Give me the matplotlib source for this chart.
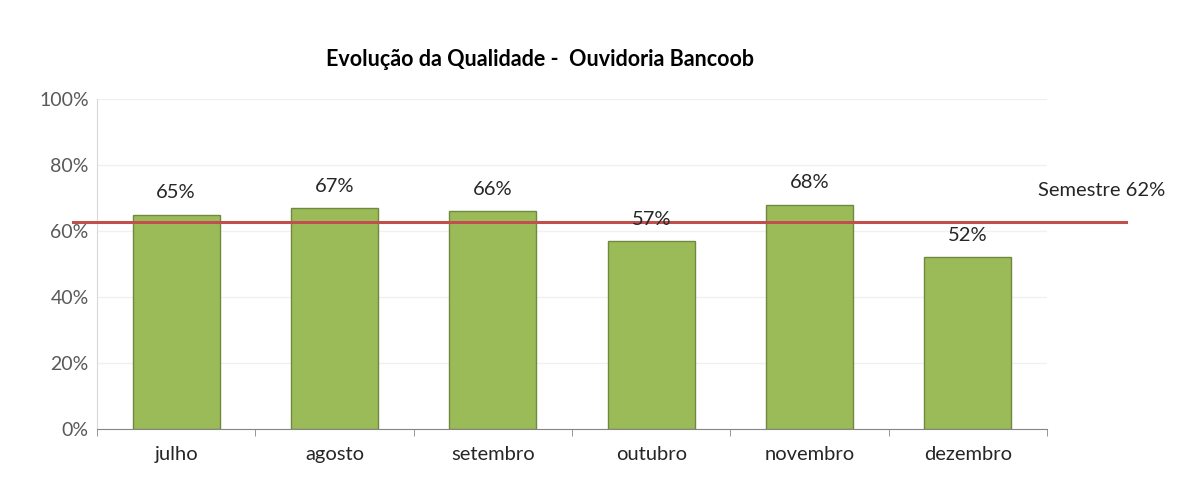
import matplotlib
matplotlib.use("Agg")
import matplotlib.pyplot as plt
import numpy as np

plt.rcParams['font.family'] = ['Lato', 'DejaVu Sans']

meses = ["julho", "agosto", "setembro", "outubro", "novembro", "dezembro"]
qualidade = [0.65, 0.67, 0.66, 0.57, 0.68, 0.52]
semestre = 0.627
rotulo_semestre = "Semestre 62%"
y_ticks = [0, 0.2, 0.4, 0.6, 0.8, 1.0]

fig = plt.figure(figsize=(11.89, 4.97), dpi=100)
ax = fig.add_axes([97/1189, 1 - 429/497, 950/1189, 330/497])

x = np.arange(len(meses))
bars = ax.bar(x, qualidade, width=0.55, color="#9BBB59", edgecolor="#71893F", linewidth=1, zorder=2)

for xi, v in zip(x, qualidade):
    ax.text(xi, v + 0.04, f"{round(v*100):d}%", ha="center", va="bottom", fontsize=14.5, color="#262626", zorder=4)

ax.set_xlim(-0.5, len(meses) - 0.5)
ax.set_ylim(0, 1)
ax.set_yticks(y_ticks)
ax.set_yticklabels([f"{int(t*100)}%" for t in y_ticks], fontsize=14, color="#595959")
ax.set_xticks(x)
ax.set_xticklabels(meses, fontsize=14.5, color="#262626")
ax.set_xticks(np.arange(len(meses) + 1) - 0.5, minor=True)
ax.tick_params(axis="x", which="major", length=0, pad=12)
ax.tick_params(axis="x", which="minor", length=5, color="#868686")
ax.tick_params(axis="y", length=0, pad=6)

ax.grid(axis="y", color="#F0F0F0", linewidth=1, zorder=0)
for s in ["top", "right"]:
    ax.spines[s].set_visible(False)
ax.spines["left"].set_color("#D9D9D9")
ax.spines["bottom"].set_color("#868686")

# linha do semestre, passa além do eixo
ax.plot([-0.65, 6.0], [semestre, semestre], color="#C0504D", linewidth=2.2, clip_on=False, zorder=3)
ax.text(5.44, semestre + 0.095, rotulo_semestre, ha="left", va="center", fontsize=14.5, color="#262626")

fig.text(540/1189, 1 - 60/497, "Evolução da Qualidade -  Ouvidoria Bancoob", ha="center", va="center",
         fontsize=15.5, fontweight="bold", color="#000000")

fig.savefig("out.png", dpi=100, facecolor="white")
